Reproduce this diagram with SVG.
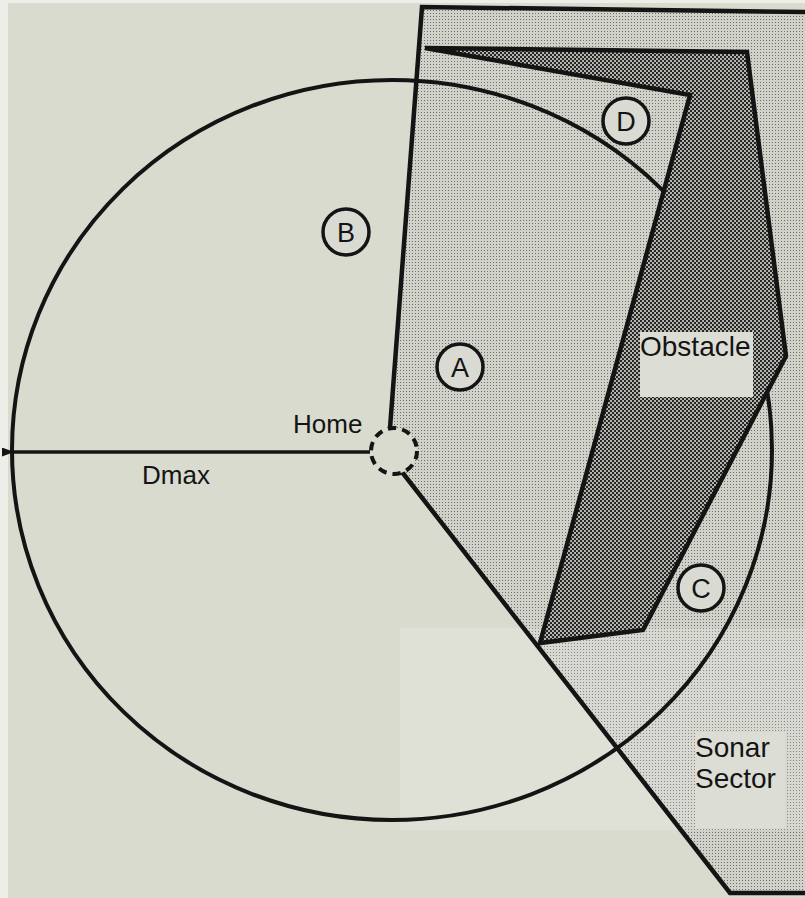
<svg xmlns="http://www.w3.org/2000/svg" width="805" height="898" viewBox="0 0 805 898">
  <style>
    .ln { fill: none; stroke: #141414; stroke-linejoin: miter; }
    .lbl { font-family: "Liberation Sans", Arial, sans-serif; fill: #141414; }
    .tag circle { fill: #d9dad2; stroke: #141414; stroke-width: 3.5; }
    .tag text { font-family: "Liberation Sans", Arial, sans-serif; font-size: 27px; fill: #141414; text-anchor: middle; }
    .box { fill: #dcddd5; }
  </style>
  <defs>
    <pattern id="light" width="3" height="3" patternUnits="userSpaceOnUse">
      <rect width="3" height="3" fill="#d0d1c9"/>
      <rect x="1" y="1" width="1" height="1" fill="#6f706b"/>
    </pattern>
    <pattern id="dark" width="4" height="4" patternUnits="userSpaceOnUse">
      <rect width="4" height="4" fill="#b3b4ad"/>
      <rect x="0" y="0" width="2" height="2" fill="#262624"/>
      <rect x="2" y="2" width="2" height="2" fill="#262624"/>
    </pattern>
    <marker id="arrow" markerWidth="12" markerHeight="9" refX="1" refY="4.5" orient="auto-start-reverse" markerUnits="userSpaceOnUse">
      <path d="M0,4.5 L12,0 L12,9 Z" fill="#141414"/>
    </marker>
  </defs>

  <!-- page -->
  <rect width="805" height="898" fill="#d9dbcf"/>
  <rect width="8" height="898" fill="#eceee8"/>
  <rect width="805" height="3" fill="#eceee8"/>

  <!-- sonar sector -->
  <g id="sonar-sector">
    <polygon points="422,7 805,12 805,893 730,893 402,472 390,428" fill="url(#light)"/>
    <rect x="400" y="628" width="405" height="202" fill="#ffffff" opacity="0.16"/>
  </g>

  <!-- range circle (Dmax) -->
  <g id="range-circle">
    <ellipse cx="392" cy="450" rx="380" ry="370" class="ln" style="stroke-width:4"/>
  </g>

  <!-- obstacle -->
  <g id="obstacle">
    <polygon points="425,48 747,52 786,356 643,630 540,643 690,95" class="ln" style="fill:url(#dark);stroke-width:4.5"/>
    <rect x="640" y="332" width="113" height="65" class="box"/>
    <text class="lbl" x="640" y="356" font-size="28">Obstacle</text>
  </g>

  <!-- sector outline -->
  <g id="sector-outline">
    <path class="ln" style="stroke-width:4.5" d="M805,12 L422,7 L390,428"/>
    <path class="ln" style="stroke-width:4.5" d="M402,472 L730,893 L805,893"/>
  </g>

  <!-- sonar label -->
  <g id="sonar-label">
    <rect x="695" y="732" width="90" height="96" class="box"/>
    <text class="lbl" x="695" y="757" font-size="28">Sonar</text>
    <text class="lbl" x="695" y="788" font-size="28">Sector</text>
  </g>

  <!-- connectors -->
  <g id="connectors">
    <line x1="370" y1="452" x2="13" y2="452" class="ln" style="stroke-width:3.5" marker-end="url(#arrow)"/>
    <text class="lbl" x="142" y="484" font-size="26">Dmax</text>
  </g>

  <!-- home -->
  <g id="home">
    <circle cx="394" cy="451" r="23" fill="#d9dbcf" stroke="#141414" stroke-width="4" stroke-dasharray="8.5 6"/>
    <text class="lbl" x="293" y="433" font-size="26">Home</text>
  </g>

  <!-- region tags -->
  <g id="region-A" class="tag">
    <circle cx="460" cy="367" r="23"/>
    <text x="460" y="377">A</text>
  </g>
  <g id="region-B" class="tag">
    <circle cx="346" cy="232" r="23"/>
    <text x="346" y="242">B</text>
  </g>
  <g id="region-C" class="tag">
    <circle cx="701" cy="588" r="23"/>
    <text x="701" y="598">C</text>
  </g>
  <g id="region-D" class="tag">
    <circle cx="626" cy="121" r="23"/>
    <text x="626" y="131">D</text>
  </g>
</svg>
